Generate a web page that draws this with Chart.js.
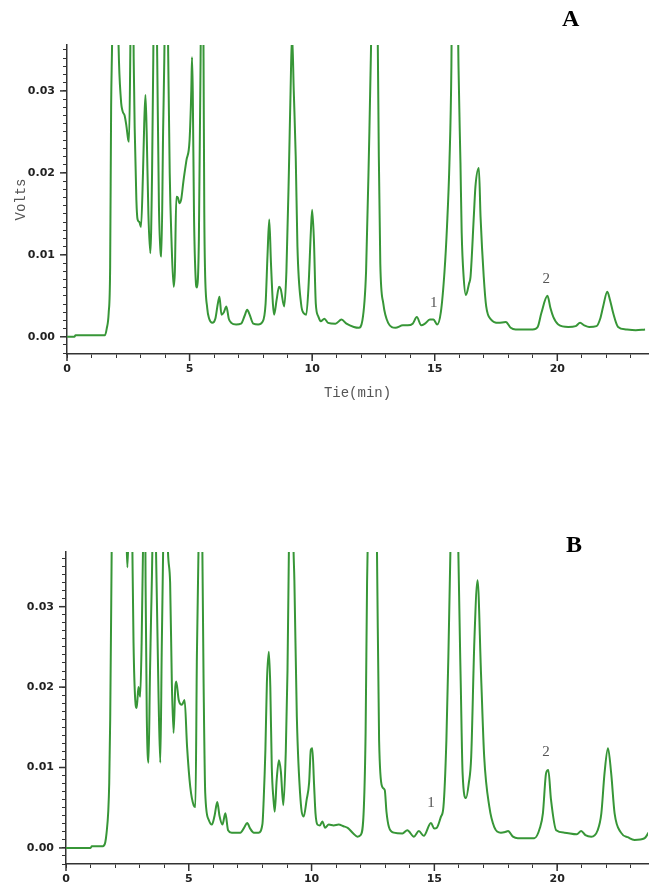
<!DOCTYPE html>
<html>
<head>
<meta charset="utf-8">
<script src="https://cdn.jsdelivr.net/npm/chart.js@4.4.1/dist/chart.umd.min.js"></script>
<style>
  body { margin: 0; background: #fff; }
  #wrap { position: relative; width: 658px; height: 892px; }
  .box { position: absolute; left: 0; width: 658px; }
  #boxA { top: 0; height: 404px; }
  #boxB { top: 500px; height: 392px; }
  .tag { position: absolute; font: bold 24px "Liberation Serif", serif; color: #000; }
</style>
</head>
<body>
<div id="wrap">
  <div class="box" id="boxA"><canvas id="chartA" width="658" height="404"></canvas></div>
  <div class="box" id="boxB"><canvas id="chartB" width="658" height="392"></canvas></div>
  <div class="tag" style="left:562px;top:5px">A</div>
  <div class="tag" style="left:566px;top:531px">B</div>
</div>
<script>
// chromatogram A (min, volts)
const timesA = [0, 0.30, 0.35, 1.55, 1.62, 1.70, 1.76, 1.80, 1.84, 1.95, 2.10, 2.20, 2.27, 2.35, 2.42, 2.50, 2.53,
  2.58, 2.65, 2.72, 2.74, 2.76, 2.83, 2.88, 2.95, 3.02, 3.10, 3.15, 3.20, 3.25, 3.32, 3.40, 3.47, 3.52, 3.58,
  3.68, 3.75, 3.82, 3.85, 3.92, 3.97, 4.05, 4.13, 4.19, 4.26, 4.35, 4.40, 4.46, 4.52, 4.59, 4.66, 4.75, 4.87,
  5.00, 5.07, 5.10, 5.13, 5.18, 5.25, 5.30, 5.38, 5.45, 5.51, 5.57, 5.60, 5.63, 5.72, 5.80, 5.93, 6.05, 6.15,
  6.22, 6.30, 6.40, 6.50, 6.60, 6.70, 6.90, 7.10, 7.25, 7.35, 7.45, 7.60, 7.80, 7.97, 8.10, 8.18, 8.25, 8.32,
  8.40, 8.45, 8.55, 8.65, 8.72, 8.86, 8.95, 9.05, 9.12, 9.18, 9.25, 9.33, 9.40, 9.55, 9.65, 9.76, 9.85, 9.95,
  10.00, 10.07, 10.15, 10.25, 10.35, 10.50, 10.65, 10.95, 11.20, 11.40, 11.70, 11.90, 12.05, 12.20, 12.32,
  12.40, 12.55, 12.68, 12.72, 12.78, 12.90, 13.10, 13.40, 13.70, 13.90, 14.10, 14.27, 14.45, 14.60, 14.80,
  14.95, 15.10, 15.25, 15.40, 15.50, 15.60, 15.68, 15.75, 15.85, 15.97, 16.05, 16.10, 16.18, 16.27, 16.40,
  16.46, 16.60, 16.66, 16.80, 16.87, 17.00, 17.10, 17.30, 17.60, 17.90, 18.10, 18.30, 19.00, 19.20, 19.35,
  19.60, 19.72, 19.84, 20.04, 20.45, 20.75, 20.93, 21.10, 21.30, 21.60, 21.75, 21.87, 22.04, 22.15, 22.28,
  22.48, 22.80, 23.20, 23.58];
const voltsA = [0, 0, 0.0002, 0.0002, 0.0010, 0.0029, 0.0085, 0.0280, 0.0360, 0.0700, 0.0360, 0.0289, 0.0275,
  0.0270, 0.0258, 0.0240, 0.0238,
  0.0340, 0.0600, 0.0340, 0.0299, 0.0256, 0.0167, 0.0143, 0.0140, 0.0134, 0.0200, 0.0260, 0.0295, 0.0250,
  0.0150, 0.0102, 0.0200, 0.0340, 0.0600,
  0.0340, 0.0160, 0.0102, 0.0098, 0.0250, 0.0340, 0.0550, 0.0340, 0.0200, 0.0120, 0.0061, 0.0080, 0.0171,
  0.0170, 0.0163, 0.0168, 0.0190, 0.0215,
  0.0240, 0.0300, 0.0341, 0.0300, 0.0150, 0.0070, 0.0060, 0.0120, 0.0340, 0.0600, 0.0340, 0.0152, 0.0082,
  0.0035, 0.0022, 0.0017, 0.0022, 0.0040,
  0.0049, 0.0027, 0.0030, 0.0037, 0.0022, 0.0017, 0.0015, 0.0016, 0.0026, 0.0033, 0.0027, 0.0016, 0.0015,
  0.0018, 0.0040, 0.0100, 0.0143, 0.0090,
  0.0040, 0.0027, 0.0045, 0.0061, 0.0058, 0.0037, 0.0080, 0.0200, 0.0300, 0.0370, 0.0300, 0.0220, 0.0110,
  0.0040, 0.0029, 0.0027, 0.0060, 0.0130,
  0.0155, 0.0120, 0.0040, 0.0025, 0.0019, 0.0022, 0.0017, 0.0016, 0.0021, 0.0016, 0.0012, 0.0011, 0.0020,
  0.0080, 0.0230,
  0.0350, 0.0700, 0.0350, 0.0220, 0.0089, 0.0041, 0.0017, 0.0011, 0.0014, 0.0014, 0.0016, 0.0024, 0.0014,
  0.0016, 0.0021,
  0.0021, 0.0015, 0.0030, 0.0080, 0.0134, 0.0212, 0.0330, 0.0600, 0.0650, 0.0330, 0.0212, 0.0127, 0.0073,
  0.0051, 0.0065,
  0.0073, 0.0150, 0.0183, 0.0206, 0.0146, 0.0073, 0.0037, 0.0021, 0.0017, 0.0018, 0.0011, 0.0009, 0.0009,
  0.0012, 0.0029,
  0.0050, 0.0035, 0.0024, 0.0015, 0.0012, 0.0013, 0.0017, 0.0014, 0.0012, 0.0013, 0.0022, 0.0037, 0.0055,
  0.0045, 0.0029,
  0.0012, 0.0009, 0.0008, 0.0009];

// chromatogram B
const timesB = [0, 1.00, 1.05, 1.50, 1.60, 1.65, 1.72, 1.76, 1.80, 1.86, 1.95, 2.45, 2.50, 2.55, 2.62, 2.70,
  2.75, 2.82, 2.88, 2.95, 3.02, 3.08, 3.14, 3.20, 3.24, 3.29, 3.36, 3.42, 3.46, 3.52, 3.58, 3.66, 3.77, 3.84,
  3.90, 3.96, 4.05, 4.14, 4.24, 4.31, 4.38, 4.45, 4.49, 4.59, 4.72, 4.83, 4.93, 5.06, 5.20, 5.27, 5.33, 5.40,
  5.50, 5.55, 5.61, 5.67, 5.81, 5.94, 6.05, 6.16, 6.25, 6.37, 6.49, 6.60, 6.75, 7.10, 7.25, 7.38, 7.50, 7.65,
  7.84, 8.00, 8.05, 8.12, 8.18, 8.26, 8.32, 8.38, 8.45, 8.50, 8.58, 8.67, 8.75, 8.85, 8.95, 9.02, 9.08, 9.18,
  9.26, 9.30, 9.40, 9.55, 9.68, 9.80, 9.90, 9.97, 10.03, 10.10, 10.16, 10.24, 10.34, 10.44, 10.55, 10.70,
  10.90, 11.10, 11.30, 11.47, 11.70, 11.87, 12.00, 12.13, 12.20, 12.26, 12.33, 12.50, 12.66, 12.75, 12.88,
  12.98, 13.05, 13.15, 13.35, 13.70, 13.90, 14.17, 14.37, 14.57, 14.86, 15.00, 15.10, 15.27, 15.37, 15.49,
  15.57, 15.66, 15.85, 15.97, 16.08, 16.15, 16.29, 16.40, 16.50, 16.63, 16.76, 16.90, 17.03, 17.24, 17.44,
  17.71, 17.90, 18.00, 18.20, 18.40, 19.07, 19.30, 19.42, 19.55, 19.64, 19.75, 19.96, 20.30, 20.80, 20.98,
  21.15, 21.39, 21.65, 21.80, 21.93, 22.07, 22.20, 22.34, 22.60, 22.90, 23.15, 23.56, 23.72];
const voltsB = [0, 0, 0.0002, 0.0002, 0.0007, 0.0018, 0.0045, 0.0080, 0.0160, 0.0370, 0.0700, 0.0400, 0.0349,
  0.0400, 0.0600, 0.0380,
  0.0255, 0.0184, 0.0174, 0.0200, 0.0188, 0.0255, 0.0380, 0.0550, 0.0330, 0.0163, 0.0106, 0.0217, 0.0280,
  0.0380, 0.0600, 0.0380, 0.0186, 0.0106,
  0.0250, 0.0380, 0.0600, 0.0380, 0.0330, 0.0205, 0.0143, 0.0200, 0.0207, 0.0184, 0.0178, 0.0184, 0.0126,
  0.0076, 0.0053, 0.0051, 0.0238, 0.0380,
  0.0700, 0.0380, 0.0188, 0.0068, 0.0035, 0.0029, 0.0040, 0.0057, 0.0040, 0.0029, 0.0043, 0.0022, 0.0019,
  0.0019, 0.0025, 0.0031, 0.0024, 0.0019,
  0.0019, 0.0030, 0.0060, 0.0122, 0.0205, 0.0244, 0.0200, 0.0100, 0.0060, 0.0045, 0.0085, 0.0109, 0.0095,
  0.0053, 0.0120, 0.0221, 0.0380, 0.0600,
  0.0380, 0.0333, 0.0163, 0.0060, 0.0039, 0.0060, 0.0081, 0.0122, 0.0124, 0.0080, 0.0043, 0.0029, 0.0028,
  0.0033, 0.0025, 0.0029,
  0.0028, 0.0029, 0.0027, 0.0025, 0.0018, 0.0014, 0.0016, 0.0051, 0.0143, 0.0330, 0.0450, 0.0700, 0.0380,
  0.0134, 0.0076,
  0.0072, 0.0045, 0.0026, 0.0019, 0.0018, 0.0022, 0.0014, 0.0021, 0.0015, 0.0031, 0.0024, 0.0025, 0.0039,
  0.0051, 0.0134,
  0.0237, 0.0380, 0.0700, 0.0380, 0.0196, 0.0093, 0.0062, 0.0080, 0.0113, 0.0258, 0.0333, 0.0217, 0.0113,
  0.0051, 0.0026,
  0.0019, 0.0020, 0.0021, 0.0014, 0.0012, 0.0012, 0.0025, 0.0043, 0.0093, 0.0097, 0.0060, 0.0022, 0.0019,
  0.0017, 0.0021,
  0.0016, 0.0014, 0.0022, 0.0043, 0.0093, 0.0124, 0.0093, 0.0043, 0.0019, 0.0013, 0.0010, 0.0012, 0.0019];

// peak numbers
const peakNames = ["1", "2"];
const peakTimesA = [14.96, 19.55];
const peakVoltsA = [0.0041, 0.0071];
const peakTimesB = [14.86, 19.55];
const peakVoltsB = [0.0056, 0.0119];

const LINE = "#379637";
const AXIS = "#333";

// longer ticks at labelled values
const majorTicks = {
  id: "majorTicks",
  afterDraw(chart) {
    const ctx = chart.ctx;
    const xs = chart.scales.x, ys = chart.scales.y;
    ctx.save();
    ctx.strokeStyle = AXIS;
    ctx.lineWidth = 1.5;
    xs.ticks.forEach(t => {
      if (Math.round(t.value) % 5 !== 0) return;
      const px = xs.getPixelForValue(t.value);
      ctx.beginPath(); ctx.moveTo(px, xs.top); ctx.lineTo(px, xs.top + 7); ctx.stroke();
    });
    ys.ticks.forEach(t => {
      if (Math.round(t.value * 1000) % 10 !== 0) return;
      const py = ys.getPixelForValue(t.value);
      ctx.beginPath(); ctx.moveTo(ys.right, py); ctx.lineTo(ys.right - 7, py); ctx.stroke();
    });
    ctx.restore();
  }
};

// "1" / "2" peak numbers
const peakText = {
  id: "peakText",
  afterDatasetsDraw(chart, args, opts) {
    const ctx = chart.ctx;
    ctx.save();
    ctx.font = '15px "Liberation Serif", serif';
    ctx.fillStyle = "#555";
    ctx.textAlign = "center";
    ctx.textBaseline = "middle";
    opts.times.forEach((t, i) => {
      ctx.fillText(peakNames[i], chart.scales.x.getPixelForValue(t), chart.scales.y.getPixelForValue(opts.volts[i]));
    });
    ctx.restore();
  }
};

const tickFont = { family: '"DejaVu Sans", sans-serif', size: 11, weight: "bold" };

function makeChart(id, times, volts, o) {
  const pts = times.map((t, i) => ({ x: t, y: volts[i] }));
  return new Chart(document.getElementById(id), {
    type: "line",
    data: { datasets: [{ data: pts, borderColor: LINE, borderWidth: 2, pointRadius: 0,
      cubicInterpolationMode: "monotone", fill: false }] },
    options: {
      responsive: false,
      animation: false,
      layout: { padding: { top: o.padTop, right: 10, left: 0, bottom: 0 } },
      plugins: {
        legend: { display: false },
        tooltip: { enabled: false },
        peakText: { times: o.peakTimes, volts: o.peakVolts }
      },
      scales: {
        x: {
          type: "linear",
          min: 0, max: 23.7,
          afterFit(s) { s.height = o.xHeight; },
          border: { color: AXIS, width: 1.5 },
          grid: { drawOnChartArea: false, tickLength: 4, color: AXIS, lineWidth: 1 },
          ticks: {
            stepSize: 1, autoSkip: false, includeBounds: false, maxRotation: 0, padding: 5,
            color: "#222", font: tickFont,
            callback: v => (Math.round(v) % 5 === 0 ? String(Math.round(v)) : "")
          },
          title: {
            display: o.xTitle !== "", text: o.xTitle, color: "#555",
            font: { family: '"Liberation Mono", monospace', size: 14 },
            padding: { top: 0, bottom: 2 }
          }
        },
        y: {
          min: o.yMin, max: o.yMax,
          afterFit(s) { s.width = o.yWidth; },
          border: { color: AXIS, width: 1.5 },
          grid: { drawOnChartArea: false, tickLength: 4, color: AXIS, lineWidth: 1 },
          ticks: {
            stepSize: 0.001, autoSkip: false, includeBounds: false, padding: 8,
            color: "#222", font: tickFont,
            callback: v => (Math.round(v * 1000) % 10 === 0 ? v.toFixed(2) : "")
          },
          title: {
            display: o.yTitle !== "", text: o.yTitle, color: "#555",
            font: { family: '"Liberation Mono", monospace', size: 14 },
            padding: { top: 13, bottom: 0 }
          }
        }
      }
    },
    plugins: [majorTicks, peakText]
  });
}

makeChart("chartA", timesA, voltsA, {
  padTop: 45, xHeight: 50, yWidth: 67, yMin: -0.0021, yMax: 0.0356,
  xTitle: "Tie(min)", yTitle: "Volts", peakTimes: peakTimesA, peakVolts: peakVoltsA
});
makeChart("chartB", timesB, voltsB, {
  padTop: 52, xHeight: 28, yWidth: 66, yMin: -0.002, yMax: 0.0368,
  xTitle: "", yTitle: "", peakTimes: peakTimesB, peakVolts: peakVoltsB
});
</script>
</body>
</html>
